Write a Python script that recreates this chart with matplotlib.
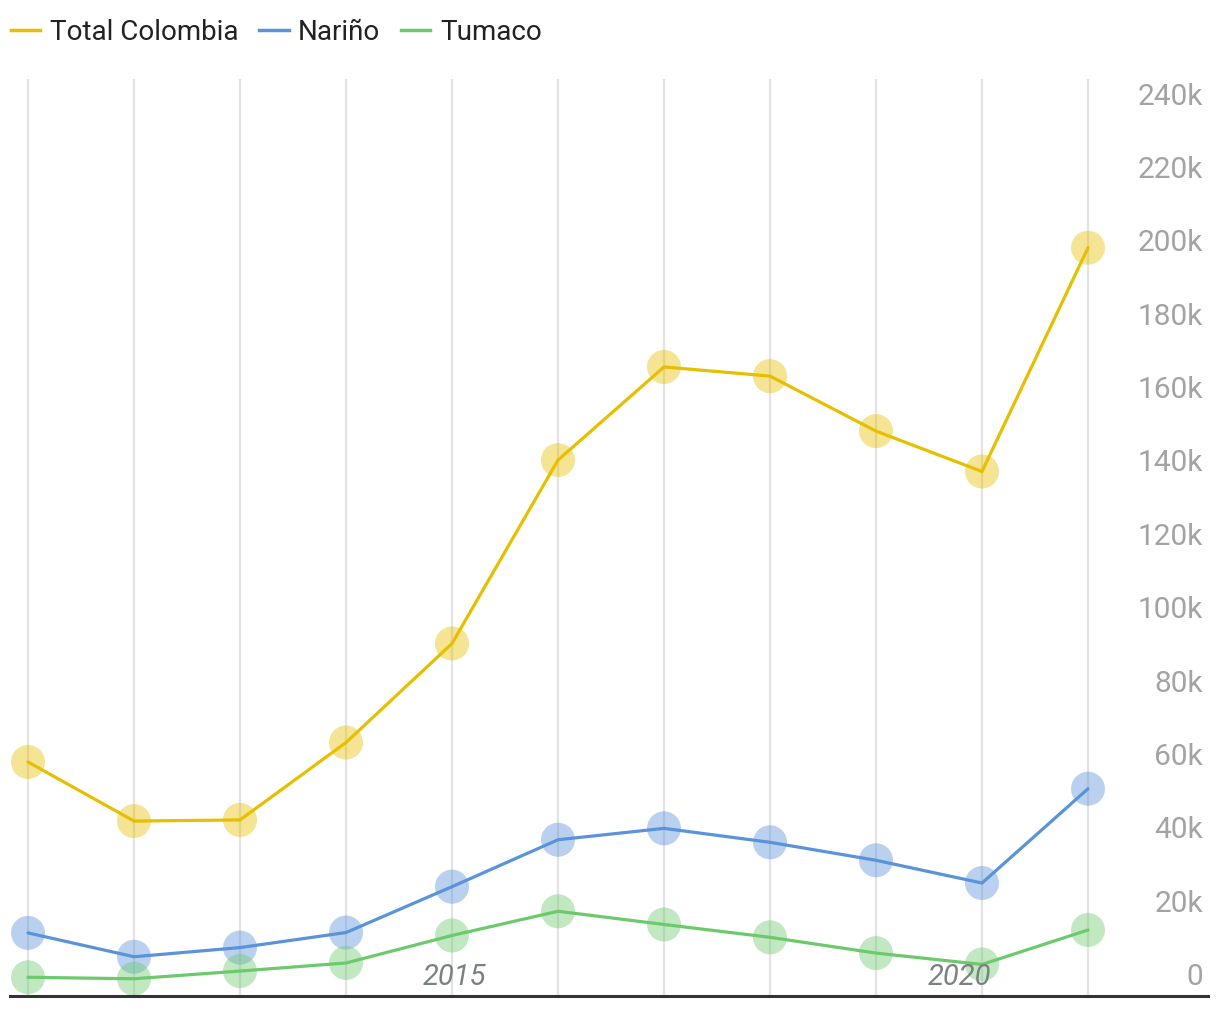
"""
Coca cultivation (hectares): Total Colombia vs Nariño vs Tumaco, 2011-2021.
"""

import matplotlib
matplotlib.use("Agg")
import matplotlib.pyplot as plt
from matplotlib.lines import Line2D
from matplotlib.transforms import blended_transform_factory

plt.rcParams['font.family'] = ['Roboto', 'DejaVu Sans']

# Data
years = [2011, 2012, 2013, 2014, 2015, 2016, 2017, 2018, 2019, 2020, 2021]
total_colombia = [63800, 47700, 48000, 69100, 96100, 146100, 171500, 169000, 154000, 143000, 204000]
narino = [17200, 10700, 13200, 17300, 29800, 42600, 45700, 41900, 37000, 30800, 56500]
tumaco = [5100, 4700, 6800, 9000, 16500, 23100, 19500, 16000, 11700, 8600, 18000]

series_names = ['Total Colombia', 'Nariño', 'Tumaco']
series_colors = ['#e6bf00', '#5a93da', '#6cca6c']

y_ticks = [0, 20000, 40000, 60000, 80000, 100000, 120000, 140000,
           160000, 180000, 200000, 220000, 240000]
y_tick_labels = ['0', '20k', '40k', '60k', '80k', '100k', '120k', '140k',
                 '160k', '180k', '200k', '220k', '240k']
x_labels = {2015: '2015', 2020: '2020'}


def main():
    fig = plt.figure(figsize=(12.2, 10.2), dpi=100)
    W, H = 1220, 1020
    ax = fig.add_axes([10 / W, 23 / H, 1198 / W, (997 - 80) / H])

    ax.set_xlim(2011 - 18 / 106, 2021 + 120 / 106)
    ax.set_ylim(0, 250000)

    # vertical grid lines at each year
    for yr in years:
        ax.axvline(yr, color='#e3e3e3', lw=1.6, zorder=0)

    for name, vals, col in zip(series_names, [total_colombia, narino, tumaco], series_colors):
        ax.scatter(years, vals, s=600, color=col, alpha=0.42, edgecolors='none',
                   zorder=2, clip_on=False)
        ax.plot(years, vals, color=col, lw=2.3, zorder=3, solid_capstyle='round',
                solid_joinstyle='miter', clip_on=False)

    # axes styling
    for side in ['top', 'left', 'right']:
        ax.spines[side].set_visible(False)
    ax.spines['bottom'].set_color('#333333')
    ax.spines['bottom'].set_linewidth(2.2)
    ax.set_xticks([])
    ax.set_yticks([])

    # y labels on the right, sitting above their value
    trans = blended_transform_factory(ax.transAxes, ax.transData)
    for v, lab in zip(y_ticks, y_tick_labels):
        ax.annotate(lab, xy=(1, v), xycoords=trans, xytext=(-5, 20),
                    textcoords='offset pixels', ha='right', va='center',
                    fontsize=21.5, color='#a3a3a3')

    # italic year labels
    offsets = {2015: 2, 2020: -23}
    for yr, lab in x_labels.items():
        ax.annotate(lab, xy=(yr, 0), xycoords='data', xytext=(offsets[yr], 20),
                    textcoords='offset pixels', ha='center', va='center',
                    fontsize=21, color='#7b8080', style='italic')

    # legend
    handles = [Line2D([0], [0], color=c, lw=2.5) for c in series_colors]
    fig.legend(handles, series_names, loc='upper left', bbox_to_anchor=(0.0, 0.992),
               borderaxespad=0.1, borderpad=0.3,
               ncol=3, frameon=False, fontsize=20, handlelength=1.05,
               handletextpad=0.35, columnspacing=0.75, labelcolor='#222222')

    fig.savefig('out.png', dpi=100)


if __name__ == "__main__":
    main()
